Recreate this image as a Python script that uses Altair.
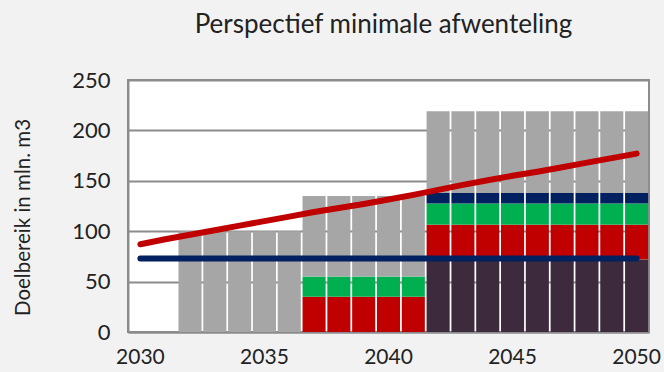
import altair as alt
import pandas as pd

# Years on the category axis
jaren = list(range(2030, 2051))

# Stacked bar segments per year (mln. m3), bottom to top
basis  = [0, 0, 0, 0, 0, 0, 0, 0, 0, 0, 0, 0, 72, 72, 72, 72, 72, 72, 72, 72, 72]
rood   = [0, 0, 0, 0, 0, 0, 0, 35, 35, 35, 35, 35, 34.5, 34.5, 34.5, 34.5, 34.5, 34.5, 34.5, 34.5, 34.5]
groen  = [0, 0, 0, 0, 0, 0, 0, 20, 20, 20, 20, 20, 21, 21, 21, 21, 21, 21, 21, 21, 21]
blauw  = [0, 0, 0, 0, 0, 0, 0, 0, 0, 0, 0, 0, 10.5, 10.5, 10.5, 10.5, 10.5, 10.5, 10.5, 10.5, 10.5]
grijs  = [0, 0, 100, 100, 100, 100, 100, 80, 80, 80, 80, 80, 81, 81, 81, 81, 81, 81, 81, 81, 81]

# Lines
opgave = [87, 92, 96.5, 101, 105.5, 110, 114.5, 119, 123, 127, 131.5, 136,
          141, 146, 150.5, 155, 159, 163.5, 168, 172.5, 177]
niveau = [73] * len(jaren)

segmenten = ["basis", "rood", "groen", "blauw", "grijs"]
kleuren = ["#3d2b3d", "#c00000", "#00b050", "#002060", "#a6a6a6"]
reeksen = [basis, rood, groen, blauw, grijs]

rows = []
for volgorde, (naam, waarden) in enumerate(zip(segmenten, reeksen)):
    for jaar, w in zip(jaren, waarden):
        if w > 0:
            rows.append({"jaar": jaar, "segment": naam, "waarde": w, "volgorde": volgorde})
bars_df = pd.DataFrame(rows)

lijnen_df = pd.DataFrame({"jaar": jaren, "opgave": opgave, "niveau": niveau})

FONT = "Lato"
TXT = "#222222"
GRID = "#8c8c8c"

x_enc = alt.X(
    "jaar:O",
    scale=alt.Scale(domain=jaren, paddingInner=0.07, paddingOuter=0.035),
    axis=alt.Axis(
        values=[2030, 2035, 2040, 2045, 2050],
        labelAngle=0,
        ticks=False,
        title=None,
        labelFont=FONT,
        labelFontSize=21,
        labelColor=TXT,
        labelPadding=14,
        domainColor=GRID,
        domainWidth=2,
        grid=False,
    ),
)

y_scale = alt.Scale(domain=[0, 250], nice=False)
y_axis = alt.Axis(
    values=[0, 50, 100, 150, 200, 250],
    ticks=False,
    title="Doelbereik in mln. m3",
    titleFont=FONT,
    titleFontSize=20.5,
    titleFontWeight="normal",
    titleColor=TXT,
    titleX=-95,
    titleY=137,
    titleAngle=270,
    titleAlign="center",
    titleBaseline="bottom",
    labelFont=FONT,
    labelFontSize=22,
    labelColor=TXT,
    labelPadding=18,
    domainColor=GRID,
    domainWidth=2,
    grid=True,
    gridColor=GRID,
    gridWidth=2,
)

bars = alt.Chart(bars_df).mark_bar().encode(
    x=x_enc,
    y=alt.Y("sum(waarde):Q", scale=y_scale, axis=y_axis, stack="zero"),
    color=alt.Color("segment:N", scale=alt.Scale(domain=segmenten, range=kleuren), legend=None),
    order=alt.Order("volgorde:Q", sort="ascending"),
)

lijn_niveau = alt.Chart(lijnen_df).mark_line(
    color="#002060", strokeWidth=6, strokeCap="round"
).encode(x=x_enc, y=alt.Y("niveau:Q", scale=y_scale))

lijn_opgave = alt.Chart(lijnen_df).mark_line(
    color="#c00000", strokeWidth=6, strokeCap="round", strokeJoin="round"
).encode(x=x_enc, y=alt.Y("opgave:Q", scale=y_scale))

chart = (
    alt.layer(bars, lijn_niveau, lijn_opgave)
    .properties(
        width=521,
        height=252,
        background="#f2f2f2",
        padding={"left": 128, "top": 80, "right": 15, "bottom": 40},
        autosize=alt.AutoSizeParams(type="none"),
        title=alt.TitleParams(
            "Perspectief minimale afwenteling",
            font=FONT,
            fontSize=26,
            fontWeight="normal",
            color=TXT,
            anchor="middle",
            offset=31,
            dx=-5,
        ),
    )
    .configure_view(fill="white", stroke=GRID, strokeWidth=2)
)

chart.save("out.html", embed_options={"renderer": "svg", "actions": False})
